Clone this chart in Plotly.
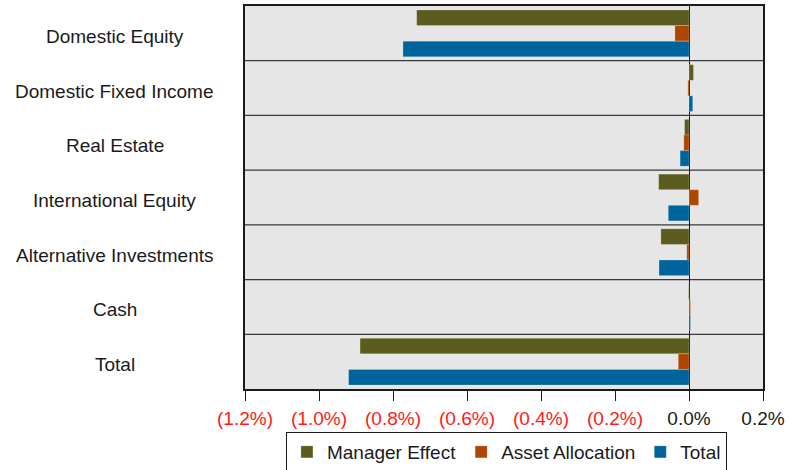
import plotly.graph_objects as go

categories = ["Domestic Equity", "Domestic Fixed Income", "Real Estate",
              "International Equity", "Alternative Investments", "Cash", "Total"]
manager_effect = [-0.736, 0.012, -0.012, -0.082, -0.076, -0.001, -0.889]
asset_allocation = [-0.038, -0.003, -0.014, 0.026, -0.006, 0.004, -0.029]
total = [-0.773, 0.010, -0.024, -0.056, -0.081, 0.004, -0.920]

series_names = ["Manager Effect", "Asset Allocation", "Total"]
series_colors = ["#5C5C1F", "#AF4600", "#00649C"]
tick_vals = [-1.2, -1.0, -0.8, -0.6, -0.4, -0.2, 0.0, 0.2]
tick_text = ["(1.2%)", "(1.0%)", "(0.8%)", "(0.6%)", "(0.4%)", "(0.2%)", "0.0%", "0.2%"]

FONT = "Liberation Sans, Arial, sans-serif"
FS = 19

fig = go.Figure()
for name, vals, col in zip(series_names, [manager_effect, asset_allocation, total], series_colors):
    fig.add_trace(go.Bar(
        y=categories, x=vals, name=name, orientation="h",
        marker=dict(color=col, line=dict(color="rgba(255,255,255,0.35)", width=0.6)),
    ))

ticktext_colored = [
    f'<span style="color:#FF1A1A">{t}</span>' if v < 0 else t
    for v, t in zip(tick_vals, tick_text)
]

shapes = []
for i in range(len(categories) - 1):
    shapes.append(dict(type="line", xref="paper", x0=0, x1=1, yref="y",
                       y0=i + 0.5, y1=i + 0.5, line=dict(color="#3a3a3a", width=1.2),
                       layer="below"))

annotations = []
for c in categories:
    annotations.append(dict(text=c, xref="paper", x=-0.251, xanchor="center",
                            yref="y", y=c, yanchor="middle", yshift=-3, showarrow=False,
                            font=dict(family=FONT, size=FS, color="#1a1a1a")))

fig.update_layout(
    width=798, height=470,
    margin=dict(l=245, r=35, t=6, b=81, autoexpand=False),
    paper_bgcolor="white", plot_bgcolor="#E6E6E6",
    barmode="group", bargap=0.145, bargroupgap=0,
    font=dict(family=FONT, size=FS, color="#1a1a1a"),
    showlegend=True,
    legend=dict(orientation="h", x=0.079, xanchor="left",
                y=-0.1123, yanchor="top",
                bordercolor="#1a1a1a", borderwidth=1, bgcolor="white",
                font=dict(family=FONT, size=19, color="#1a1a1a"),
                traceorder="normal"),
    shapes=shapes, annotations=annotations,
)
fig.update_xaxes(range=[-1.2, 0.2], tickvals=tick_vals, ticktext=ticktext_colored,
                 ticks="outside", ticklen=10, tickcolor="#1a1a1a", tickwidth=1,
                 ticklabelstandoff=1,
                 showgrid=False, zeroline=True, zerolinecolor="#1a1a1a", zerolinewidth=1,
                 showline=True, mirror=True, linecolor="#1a1a1a", linewidth=2,
                 tickfont=dict(family=FONT, size=FS))
fig.update_yaxes(autorange="reversed", showticklabels=False, ticks="", showgrid=False,
                 showline=True, mirror=True, linecolor="#1a1a1a", linewidth=2)

fig.write_html("out.html", config={"displayModeBar": False},
               post_script="document.body.style.margin='0';")
